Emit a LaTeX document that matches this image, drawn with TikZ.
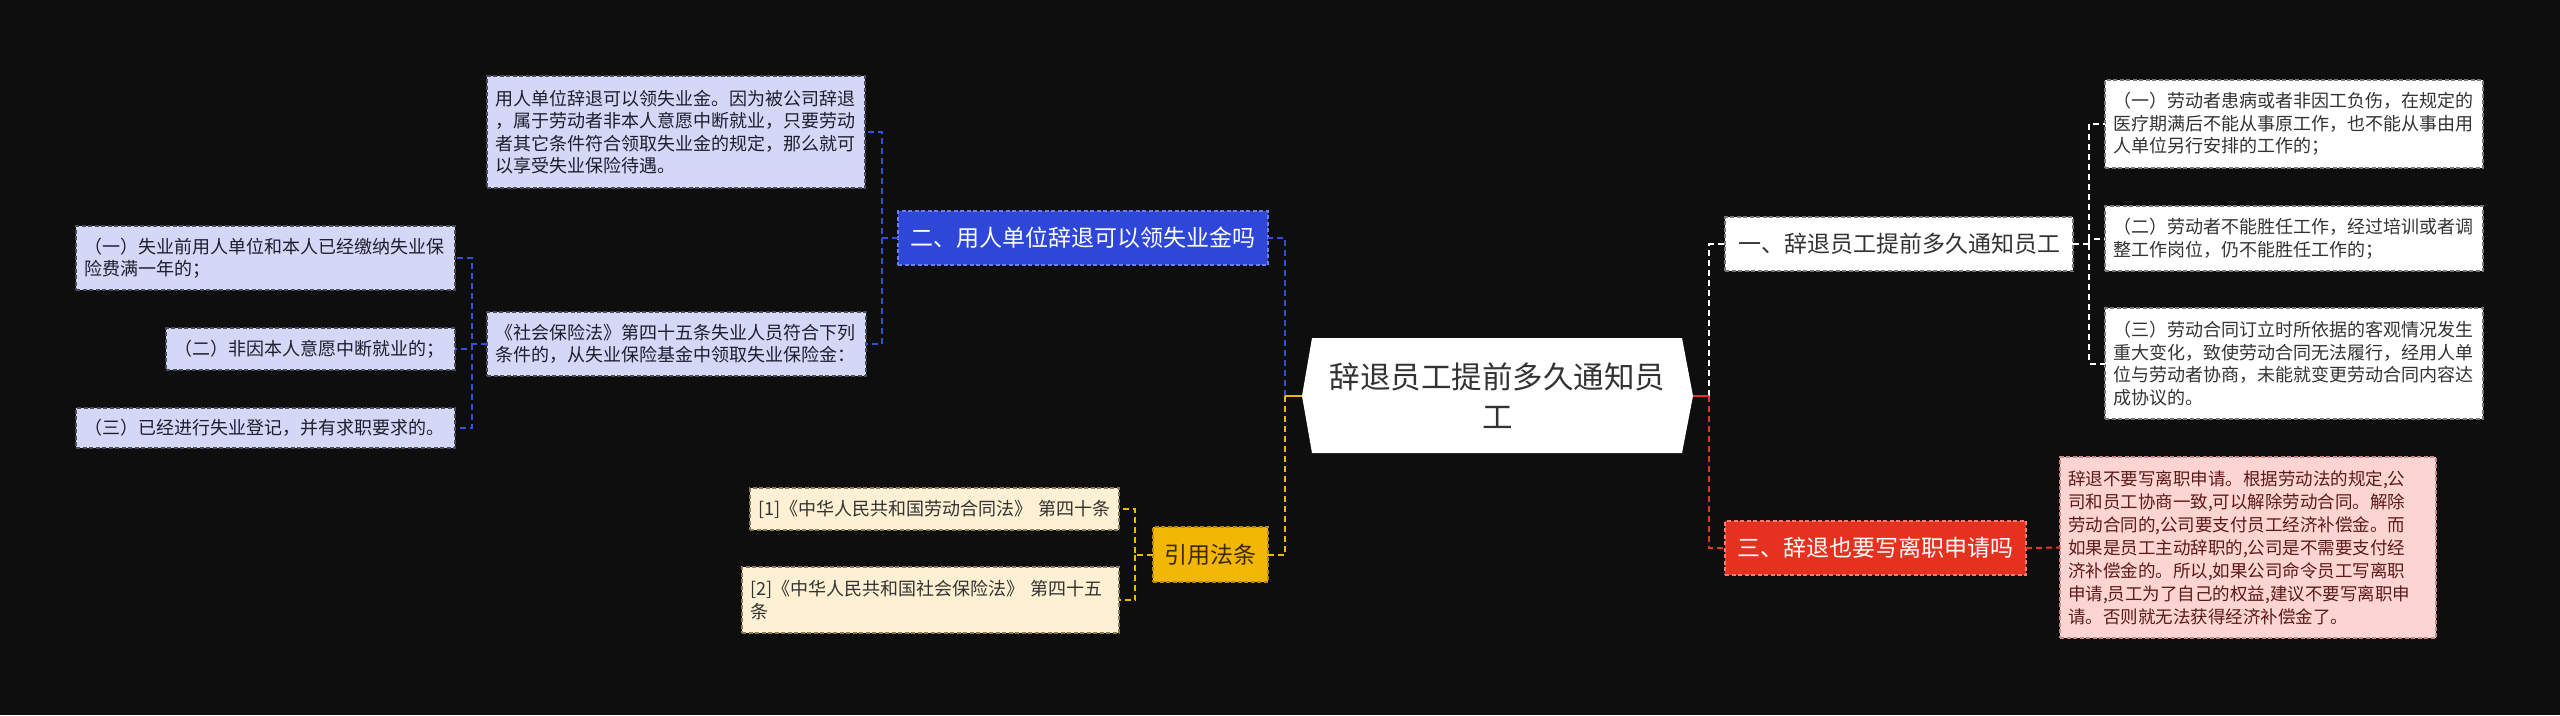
\documentclass[tikz,border=0pt]{standalone}
\usepackage{fontspec}
\setmainfont{Noto Sans CJK SC}
\usetikzlibrary{calc}
\definecolor{bgc}{HTML}{0E0E0E}
\definecolor{bluefill}{HTML}{2F47D8}
\definecolor{blueborder}{HTML}{6A7FF0}
\definecolor{bluecol}{HTML}{3450D8}
\definecolor{lavfill}{HTML}{D4D7F6}
\definecolor{lavborder}{HTML}{4A4A5A}
\definecolor{lavtext}{HTML}{1E1E2E}
\definecolor{goldfill}{HTML}{F2B705}
\definecolor{goldborder}{HTML}{B88A00}
\definecolor{goldtext}{HTML}{3A2A00}
\definecolor{goldcol}{HTML}{F0B800}
\definecolor{creamfill}{HTML}{FDF0D3}
\definecolor{creamborder}{HTML}{8A7A5A}
\definecolor{darktext}{HTML}{333333}
\definecolor{whiteborder}{HTML}{777777}
\definecolor{redfill}{HTML}{E5311F}
\definecolor{redborder}{HTML}{FF7A6A}
\definecolor{redcol}{HTML}{E3342A}
\definecolor{pinkfill}{HTML}{FCD5D2}
\definecolor{pinkborder}{HTML}{C88888}
\definecolor{pinktext}{HTML}{5C1A1A}
\tikzset{
  boxbase/.style={draw, line width=1.2pt, dash pattern=on 4pt off 2.5pt, inner sep=0pt, outer sep=0pt},
  leaf/.style={boxbase, align=left, inner xsep=8pt, font=\fontsize{18pt}{22.5pt}\selectfont},
  topic/.style={boxbase, align=center, font=\fontsize{23pt}{28pt}\selectfont},
  lavbox/.style={leaf, fill=lavfill, draw=lavborder, text=lavtext},
  creambox/.style={leaf, fill=creamfill, draw=creamborder, text=darktext},
  whitebox/.style={leaf, fill=white, draw=whiteborder, text=darktext},
  pinkbox/.style={leaf, fill=pinkfill, draw=pinkborder, text=pinktext, font=\fontsize{17.5pt}{23pt}\selectfont},
  conn/.style={line width=2pt, dash pattern=on 6pt off 4pt},
  bluecon/.style={conn, draw=bluecol},
  yelcon/.style={conn, draw=goldcol},
  whitecon/.style={conn, draw=white},
  redcon/.style={conn, draw=redcol},
}
\begin{document}
\begin{tikzpicture}[x=1pt,y=-1pt]
\useasboundingbox (0,0) rectangle (2560,715);
\fill[bgc] (0,0) rectangle (2560,715);
% central shape
\fill[white] (1312,338) -- (1682,338) -- (1693,396) -- (1682,453) -- (1312,453) -- (1302,396) -- cycle;
\node[inner sep=0pt, outer sep=0pt, minimum width=391pt, minimum height=115pt, align=center, text=darktext, font=\fontsize{30.5pt}{40pt}\selectfont] (c) at (1497.5,395.5) {辞退员工提前多久通知员\\工};

% left side
\node[topic, fill=bluefill, draw=blueborder, text=white, minimum width=370pt, minimum height=54pt] (n2) at (1083,238) {二、用人单位辞退可以领失业金吗};
\node[lavbox, text width=362pt, minimum height=112pt] (b1) at (676,132) {用人单位辞退可以领失业金。因为被公司辞退\\，属于劳动者非本人意愿中断就业，只要劳动\\者其它条件符合领取失业金的规定，那么就可\\以享受失业保险待遇。};
\node[lavbox, text width=363pt, minimum height=64pt] (b2) at (676.5,344) {《社会保险法》第四十五条失业人员符合下列\\条件的，从失业保险基金中领取失业保险金：};
\node[lavbox, text width=363pt, minimum height=64pt] (c1) at (265.5,258) {（一）失业前用人单位和本人已经缴纳失业保\\险费满一年的；};
\node[lavbox, text width=273pt, minimum height=42pt] (c2) at (310.5,349) {（二）非因本人意愿中断就业的；};
\node[lavbox, text width=363pt, minimum height=40pt] (c3) at (265.5,428) {（三）已经进行失业登记，并有求职要求的。};

\node[topic, fill=goldfill, draw=goldborder, text=goldtext, minimum width=115pt, minimum height=55pt] (yf) at (1210.5,554.5) {引用法条};
\node[creambox, text width=353pt, minimum height=42pt] (ref1) at (934.5,509) {[1]《中华人民共和国劳动合同法》~第四十条};
\node[creambox, text width=361pt, minimum height=66pt] (ref2) at (930.5,600) {[2]《中华人民共和国社会保险法》~第四十五\\条};

% right side
\node[topic, fill=white, draw=whiteborder, text=darktext, minimum width=348pt, minimum height=54pt] (n1) at (1899,244) {一、辞退员工提前多久通知员工};
\node[whitebox, text width=362pt, minimum height=88pt] (r1) at (2294,124) {（一）劳动者患病或者非因工负伤，在规定的\\医疗期满后不能从事原工作，也不能从事由用\\人单位另行安排的工作的；};
\node[whitebox, text width=362pt, minimum height=65pt] (r2) at (2294,238.5) {（二）劳动者不能胜任工作，经过培训或者调\\整工作岗位，仍不能胜任工作的；};
\node[whitebox, text width=362pt, minimum height=111pt] (r3) at (2294,363.5) {（三）劳动合同订立时所依据的客观情况发生\\重大变化，致使劳动合同无法履行，经用人单\\位与劳动者协商，未能就变更劳动合同内容达\\成协议的。};

\node[topic, fill=redfill, draw=redborder, text=white, minimum width=301pt, minimum height=54pt] (n3) at (1875.5,548) {三、辞退也要写离职申请吗};
\node[pinkbox, text width=360pt, minimum height=181pt] (pk) at (2248,547.5) {辞退不要写离职申请。根据劳动法的规定,公\\司和员工协商一致,可以解除劳动合同。解除\\劳动合同的,公司要支付员工经济补偿金。而\\如果是员工主动辞职的,公司是不需要支付经\\济补偿金的。所以,如果公司命令员工写离职\\申请,员工为了自己的权益,建议不要写离职申\\请。否则就无法获得经济补偿金了。};

% connectors left
\coordinate (jl) at ([xshift=-17pt]c.west);
\draw[bluecon] (jl) |- (n2.east);
\draw[yelcon] (jl) |- (yf.east);
\draw[line width=2pt, draw=goldcol] (c.west) -- (jl);
\coordinate (j2) at ([xshift=-16pt]n2.west);
\draw[bluecon] (n2.west) -- (j2) |- (b1.east);
\draw[bluecon] (j2) |- (b2.east);
\coordinate (j3) at ([xshift=-15pt]b2.west);
\draw[bluecon] (b2.west) -- (j3) |- (c1.east);
\draw[bluecon] (j3) |- (c2.east);
\draw[bluecon] (j3) |- (c3.east);
\coordinate (j4) at ([xshift=-18pt]yf.west);
\draw[yelcon] (yf.west) -- (j4) |- (ref1.east);
\draw[yelcon] (j4) |- (ref2.east);

% connectors right
\coordinate (jr) at ([xshift=16pt]c.east);
\draw[whitecon] (jr) |- (n1.west);
\draw[redcon] (jr) |- (n3.west);
\draw[line width=2pt, draw=redcol] (c.east) -- (jr);
\coordinate (j5) at ([xshift=16pt]n1.east);
\draw[whitecon] (n1.east) -- (j5) |- (r1.west);
\draw[whitecon] (j5) |- (r2.west);
\draw[whitecon] (j5) |- (r3.west);
\draw[redcon] (n3.east) -- (pk.west);
\end{tikzpicture}
\end{document}
